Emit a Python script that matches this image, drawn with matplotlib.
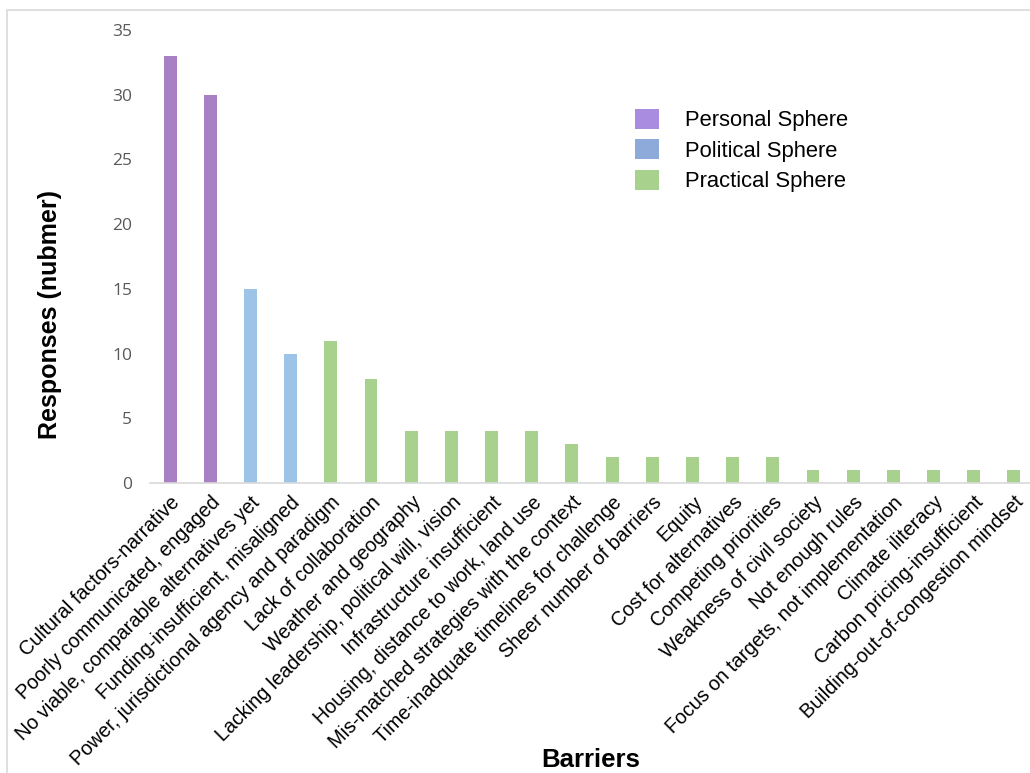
import matplotlib.pyplot as plt
from matplotlib.patches import Patch, Rectangle

# Data
barriers = [
    "Cultural factors-narrative",
    "Poorly communicated, engaged",
    "No viable, comparable alternatives yet",
    "Funding-insufficient, misaligned",
    "Power, jurisdictional agency and paradigm",
    "Lack of collaboration",
    "Weather and geography",
    "Lacking leadership, political will, vision",
    "Infrastructure insufficient",
    "Housing, distance to work, land use",
    "Mis-matched strategies with the context",
    "Time-inadquate timelines for challenge",
    "Sheer number of barriers",
    "Equity",
    "Cost for alternatives",
    "Competing priorities",
    "Weakness of civil society",
    "Not enough rules",
    "Focus on targets, not implementation",
    "Climate iliteracy",
    "Carbon pricing-insufficient",
    "Building-out-of-congestion mindset",
]
responses = [33, 30, 15, 10, 11, 8, 4, 4, 4, 4, 3, 2, 2, 2, 2, 2, 1, 1, 1, 1, 1, 1]
spheres = ["Personal"] * 2 + ["Political"] * 2 + ["Practical"] * 18

bar_colors = {"Personal": "#A781C4", "Political": "#9DC3E6", "Practical": "#A9D18E"}
legend_colors = {"Personal": "#A98BE0", "Political": "#8EAADB", "Practical": "#A9D18E"}

plt.rcParams['font.family'] = ['Liberation Sans', 'DejaVu Sans']

fig = plt.figure(figsize=(10.3, 7.73), dpi=100)
ax = fig.add_axes([150 / 1030, 1 - 483 / 773, 880 / 1030, (483 - 30) / 773])

x = list(range(len(barriers)))
ax.bar(x, responses, width=0.32, color=[bar_colors[s] for s in spheres], zorder=2)

ax.set_xlim(-0.5, 21.4)
ax.set_ylim(0, 35)
ax.set_yticks(range(0, 36, 5))
ax.tick_params(axis='y', length=0, labelsize=12.5, labelcolor='#595959', pad=13)
for lbl in ax.get_yticklabels():
    lbl.set_family(['Open Sans', 'DejaVu Sans'])

ax.set_xticks(x)
ax.set_xticklabels(barriers, rotation=45, ha='right', va='top',
                   rotation_mode='anchor', fontsize=14.2)
ax.tick_params(axis='x', length=0, pad=7)

for s in ['top', 'right', 'left']:
    ax.spines[s].set_visible(False)
ax.spines['bottom'].set_color('#D9D9D9')
ax.spines['bottom'].set_linewidth(1.2)

fig.text(50 / 1030, 1 - 314 / 773, "Responses (nubmer)", rotation=90,
         ha='center', va='center', fontsize=18, fontweight='bold')
fig.text(591 / 1030, 1 - 760 / 773, "Barriers", ha='center', va='center',
         fontsize=18.5, fontweight='bold')

handles = [Patch(facecolor=legend_colors[k], edgecolor='none') for k in ["Personal", "Political", "Practical"]]
fig.legend(handles, ["Personal Sphere", "Political Sphere", "Practical Sphere"],
           loc='upper left', bbox_to_anchor=(635 / 1030, 1 - 109 / 773),
           frameon=False, fontsize=15.8, handlelength=1.1, handleheight=1.0,
           handletextpad=1.2, labelspacing=0.37, borderpad=0, borderaxespad=0)

# light border of the original chart area
fig.patches.append(Rectangle((7 / 1030, -0.1), 1.2, 1 - 10 / 773 + 0.1,
                             transform=fig.transFigure, fill=False,
                             edgecolor='#D9D9D9', linewidth=1.2))

fig.savefig("out.png", dpi=100)
